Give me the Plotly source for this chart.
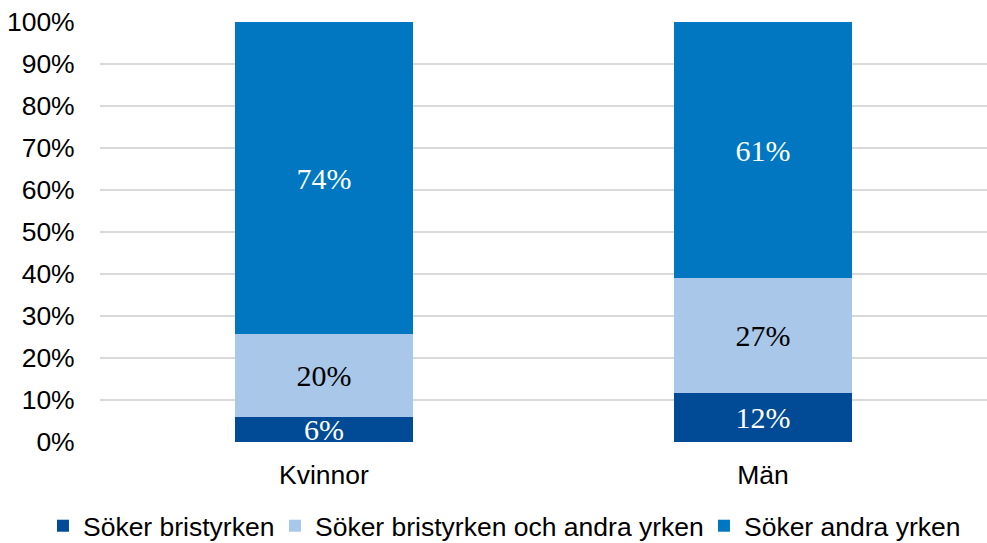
import plotly.graph_objects as go

categories = ["Kvinnor", "Män"]
series_names = ["Söker bristyrken", "Söker bristyrken och andra yrken", "Söker andra yrken"]
bristyrken = [5.9, 11.6]
bade = [19.7, 27.4]
andra = [74.4, 61.0]
y_ticks = list(range(0, 101, 10))
y_tick_labels = [f"{v}%" for v in y_ticks]

colors = ["#004A96", "#A9C7E9", "#0077C0"]
label_colors = ["white", "black", "white"]
legend_widths = [187, 384, 215]

fig = go.Figure()
for name, vals, col, lc, lw in zip(series_names, [bristyrken, bade, andra], colors, label_colors, legend_widths):
    fig.add_trace(go.Bar(
        x=categories, y=vals, name=name,
        marker=dict(color=col, line=dict(width=0)),
        width=0.405,
        texttemplate="%{y:.0f}%",
        textposition="inside",
        insidetextanchor="middle",
        constraintext="none",
        textfont=dict(family="Liberation Serif, Times New Roman, serif", size=30, color=lc),
        cliponaxis=False,
        legendwidth=lw,
    ))

fig.update_layout(
    barmode="stack",
    width=987, height=543,
    margin=dict(l=100, r=0, t=22, b=101, autoexpand=False),
    plot_bgcolor="white", paper_bgcolor="white",
    font=dict(family="Liberation Sans, Arial, sans-serif", size=26.5, color="black"),
    bargap=0,
    legend=dict(orientation="h", x=-0.0643, xanchor="left", y=-0.2, yanchor="middle",
                font=dict(size=26.5), traceorder="normal", itemclick=False),
    showlegend=True,
)
fig.update_xaxes(range=[-0.51, 1.51], showgrid=False, showline=False, automargin=False,
                 ticks="outside", ticklen=9, tickcolor="rgba(0,0,0,0)")
fig.update_yaxes(range=[0, 100], tickvals=y_ticks, ticktext=y_tick_labels, automargin=False,
                 showgrid=True, gridcolor="#D9D9D9", gridwidth=1.5, zeroline=False,
                 ticks="outside", ticklen=19, tickcolor="rgba(0,0,0,0)")

fig.write_html("out.html", config={"displayModeBar": False},
               post_script="document.body.style.margin='0';document.body.style.overflow='hidden';")
